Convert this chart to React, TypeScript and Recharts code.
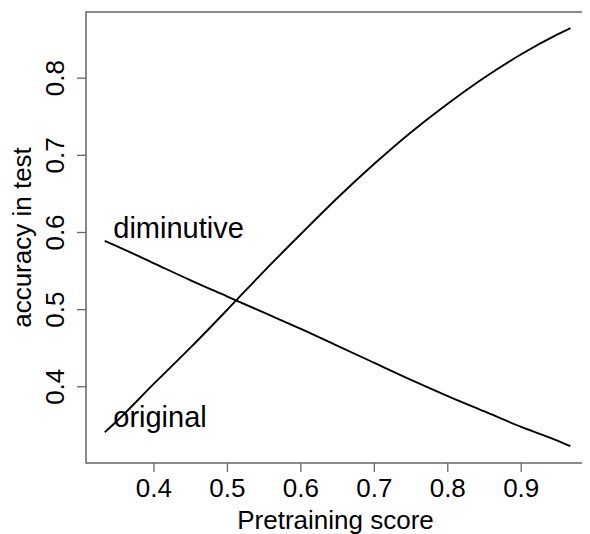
import { LineChart, Line, XAxis, YAxis, ReferenceArea, ReferenceDot } from 'recharts';

// pretraining score (x) and fitted accuracy of each condition
const scores = [0.333, 0.35, 0.4, 0.45, 0.5, 0.55, 0.6, 0.65, 0.7, 0.75, 0.8, 0.85, 0.9, 0.95, 0.967];
const original = [0.341, 0.356, 0.404, 0.451, 0.5, 0.55, 0.598, 0.645, 0.689, 0.73, 0.767, 0.801, 0.831, 0.857, 0.865];
const diminutive = [0.589, 0.582, 0.56, 0.538, 0.517, 0.496, 0.475, 0.453, 0.431, 0.409, 0.388, 0.368, 0.348, 0.33, 0.323];

const xTicks = [0.4, 0.5, 0.6, 0.7, 0.8, 0.9];
const yTicks = [0.4, 0.5, 0.6, 0.7, 0.8];

const X_DOMAIN: [number, number] = [0.3075, 0.9868];
const Y_DOMAIN: [number, number] = [0.3012, 0.8858];

const FONT = '"Liberation Sans", Arial, Helvetica, sans-serif';
const GREY = '#666';

const data = scores.map((s, i) => ({ score: s, original: original[i], diminutive: diminutive[i] }));

const YTick = ({ x, y, payload }: any) => (
  <text
    x={x}
    y={y}
    transform={`rotate(-90, ${x}, ${y})`}
    textAnchor="middle"
    fontSize={26}
    fontFamily={FONT}
    fill="#000"
  >
    {payload.value}
  </text>
);

const curveLabel = (text: string) => (p: any) => (
  <text x={p.cx} y={p.cy} fontSize={29} fontFamily={FONT} fill="#000">
    {text}
  </text>
);

export default function App() {
  return (
    <LineChart
      width={582}
      height={526}
      data={data}
      margin={{ top: 4, right: 5, bottom: 0, left: 0 }}
    >
      <XAxis
        dataKey="score"
        type="number"
        domain={X_DOMAIN}
        ticks={xTicks}
        allowDataOverflow
        height={71}
        axisLine={false}
        tickSize={9}
        tickMargin={7}
        tickLine={{ stroke: GREY, strokeWidth: 1.3 }}
        tick={{ fontSize: 26, fontFamily: FONT, fill: '#000' }}
        label={{
          content: ({ viewBox }: any) => (
            <text
              x={viewBox.x + viewBox.width / 2}
              y={521}
              textAnchor="middle"
              fontSize={26}
              fontFamily={FONT}
              fill="#000"
            >
              Pretraining score
            </text>
          ),
        }}
      />
      <YAxis
        type="number"
        domain={Y_DOMAIN}
        ticks={yTicks}
        allowDataOverflow
        width={78}
        axisLine={false}
        tickSize={9}
        tickMargin={13}
        tickLine={{ stroke: GREY, strokeWidth: 1.3 }}
        tick={<YTick />}
        label={{
          content: ({ viewBox }: any) => {
            const cy = viewBox.y + viewBox.height / 2;
            return (
              <text
                x={23}
                y={cy}
                transform={`rotate(-90, 23, ${cy})`}
                textAnchor="middle"
                fontSize={26}
                fontFamily={FONT}
                fill="#000"
              >
                accuracy in test
              </text>
            );
          },
        }}
      />
      <ReferenceArea
        x1={X_DOMAIN[0]}
        x2={X_DOMAIN[1]}
        y1={Y_DOMAIN[0]}
        y2={Y_DOMAIN[1]}
        fill="none"
        fillOpacity={0}
        stroke={GREY}
        strokeWidth={1.5}
        ifOverflow="visible"
      />
      <Line
        dataKey="original"
        type="monotone"
        stroke="#000"
        strokeWidth={1.9}
        dot={false}
        isAnimationActive={false}
      />
      <Line
        dataKey="diminutive"
        type="monotone"
        stroke="#000"
        strokeWidth={1.9}
        dot={false}
        isAnimationActive={false}
      />
      <ReferenceDot x={0.3446} y={0.593} r={0} shape={curveLabel('diminutive')} />
      <ReferenceDot x={0.3446} y={0.348} r={0} shape={curveLabel('original')} />
    </LineChart>
  );
}
